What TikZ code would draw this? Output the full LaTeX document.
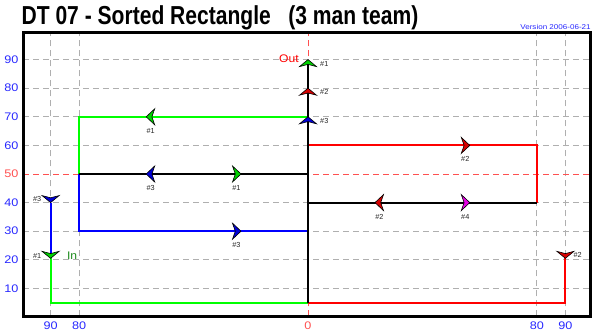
\documentclass[tikz,border=0pt]{standalone}
\usepackage{fontspec}
\setmainfont{Liberation Sans}
\definecolor{axisblue}{RGB}{40,40,255}
\definecolor{lgreen}{RGB}{0,255,0}
\definecolor{fgreen}{RGB}{0,210,0}
\definecolor{dgreen}{RGB}{30,140,30}
\definecolor{lred}{RGB}{255,0,0}
\definecolor{fred}{RGB}{215,0,0}
\definecolor{lblue}{RGB}{0,0,255}
\definecolor{fblue}{RGB}{0,0,215}
\definecolor{fmag}{RGB}{230,0,230}
\definecolor{gridgray}{RGB}{175,175,175}
\definecolor{gridred}{RGB}{255,80,80}
\tikzset{
  gridline/.style={draw=gridgray, line width=0.9pt, dash pattern=on 6pt off 4pt},
  zeroline/.style={draw=gridred, line width=0.9pt, dash pattern=on 6pt off 4pt},
  route/.style={line width=2pt, line join=miter},
  tag/.style={font=\fontsize{7.3}{8}\selectfont, text=black!85, inner sep=0pt},
  ylab/.style={font=\fontsize{11}{12}\selectfont, text=axisblue, anchor=east, inner sep=0pt},
  xlab/.style={font=\fontsize{11}{12}\selectfont, text=axisblue, inner sep=0pt},
  chevC/.pic={\path[pic actions, draw=black, line width=0.6pt, line join=miter]
     (4.5pt,0) -- (-4pt,8pt) -- (-1.2pt,0) -- (-4pt,-8pt) -- cycle;},
  chevT/.pic={\path[pic actions, draw=black, line width=0.6pt, line join=miter]
     (0,0) -- (-7pt,8.5pt) -- (-4.8pt,0) -- (-7pt,-8.5pt) -- cycle;}
}
\begin{document}
\begin{tikzpicture}[x=2.86pt,y=2.86pt]
\useasboundingbox (-107.692,-4.895) rectangle (100,110.839);
\fill[white] (-107.692,-4.895) rectangle (100,110.839);
% grid
\foreach \v in {10,20,30,40,60,70,80,90}
  \draw[gridline] (-99.6,\v) -- (98.9,\v);
\foreach \u in {-90,-80,80,90}
  \draw[gridline] (\u,0.2) -- (\u,99.3);
\draw[zeroline] (-99.6,50) -- (98.9,50);
\draw[zeroline] (0,0.2) -- (0,99.3);
% frame
\draw[line width=3pt] (-99.6,0.2) rectangle (98.9,99.3);
% title
\node[anchor=base west, inner sep=0pt, font=\bfseries\fontsize{26}{28}\selectfont] (title) at (-100.2,102.1)
  {\scalebox{0.81}[1]{DT 07 - Sorted Rectangle \ \ (3 man team)}};
\node[anchor=base east, inner sep=0pt, font=\fontsize{7}{8}\selectfont, text=axisblue] (version) at (98.9,100.4)
  {\scalebox{1.15}[1]{Version 2006-06-21}};
% axis labels
\foreach \v in {10,20,30,40,60,70,80,90}
  \node[ylab] (y\v) at (-101.2,\v) {\scalebox{1.15}[1]{\v}};
\node[ylab, text=gridred] (y50) at (-101.2,50) {\scalebox{1.15}[1]{50}};
\node[xlab] (xl90) at (-90,-2.9) {\scalebox{1.15}[1]{90}};
\node[xlab] (xl80) at (-80,-2.9) {\scalebox{1.15}[1]{80}};
\node[xlab, text=gridred] (x0) at (0,-2.9) {\scalebox{1.15}[1]{0}};
\node[xlab] (xr80) at (80,-2.9) {\scalebox{1.15}[1]{80}};
\node[xlab] (xr90) at (90,-2.9) {\scalebox{1.15}[1]{90}};
% route corners
\coordinate (a1) at (-90,40);
\coordinate (a2) at (-90,20.5);
\coordinate (a3) at (-90,5);
\coordinate (b0) at (0,5);
\coordinate (c1) at (90,20.5);
\coordinate (c2) at (90,5);
\coordinate (top) at (0,90);
\coordinate (g0) at (0,70);
\coordinate (g1) at (-80,70);
\coordinate (g2) at (-80,50);
\coordinate (k0) at (0,50);
\coordinate (u1) at (-80,30);
\coordinate (u0) at (0,30);
\coordinate (r0) at (0,60);
\coordinate (r1) at (80,60);
\coordinate (r2) at (80,40);
\coordinate (k1) at (0,40);
% routes
\draw[route, lblue] (a1) -- (a2);
\draw[route, lgreen] (a2) -- (a3) -- (b0);
\draw[route, lred] (c1) -- (c2) -- (b0);
\draw[route, lgreen] (g0) -- (g1) -- (g2);
\draw[route, lblue] (g2) -- (u1) -- (u0);
\draw[route, lred] (r0) -- (r1) -- (r2);
\draw[route, black] (g2) -- (k0);
\draw[route, black] (r2) -- (k1);
\draw[route, black] (b0) -- (top);
% markers
\pic[fill=fgreen, rotate=90] at (0,90) {chevT};
\pic[fill=fred, rotate=90] at (0,80) {chevT};
\pic[fill=fblue, rotate=90] at (0,70) {chevT};
\pic[fill=fblue, rotate=-90] at (-90,40) {chevT};
\pic[fill=fgreen, rotate=-90] at (-90,20.5) {chevT};
\pic[fill=fred, rotate=-90] at (90,20.5) {chevT};
\pic[fill=fgreen, rotate=180] at (-55,70) {chevC};
\pic[fill=fblue, rotate=180] at (-55,50) {chevC};
\pic[fill=fgreen] at (-25,50) {chevC};
\pic[fill=fblue] at (-25,30) {chevC};
\pic[fill=fred] at (55,60) {chevC};
\pic[fill=fred, rotate=180] at (25,40) {chevC};
\pic[fill=fmag] at (55,40) {chevC};
% tags
\node[tag, anchor=west] (t1) at (4.2,88.6) {\#1};
\node[tag, anchor=west] (t2) at (4.2,78.6) {\#2};
\node[tag, anchor=west] (t3) at (4.2,68.6) {\#3};
\node[tag, anchor=east] (t4) at (-93.2,41.2) {\#3};
\node[tag, anchor=east] (t5) at (-93.2,21.3) {\#1};
\node[tag, anchor=west] (t6) at (92.8,21.6) {\#2};
\node[tag] (t7) at (-55,65.1) {\#1};
\node[tag] (t8) at (-55,45.1) {\#3};
\node[tag] (t9) at (-25,45.1) {\#1};
\node[tag] (t10) at (-25,25.1) {\#3};
\node[tag] (t11) at (55,55.1) {\#2};
\node[tag] (t12) at (25,35.1) {\#2};
\node[tag] (t13) at (55,35.1) {\#4};
\node[inner sep=0pt, anchor=west, text=dgreen, font=\fontsize{11}{12}\selectfont] (in) at (-84.3,21.4) {\scalebox{1.1}[1]{In}};
\node[inner sep=0pt, anchor=east, text=lred, font=\fontsize{11}{12}\selectfont] (out) at (-3.2,90.3) {\scalebox{1.1}[1]{Out}};
\end{tikzpicture}
\end{document}
